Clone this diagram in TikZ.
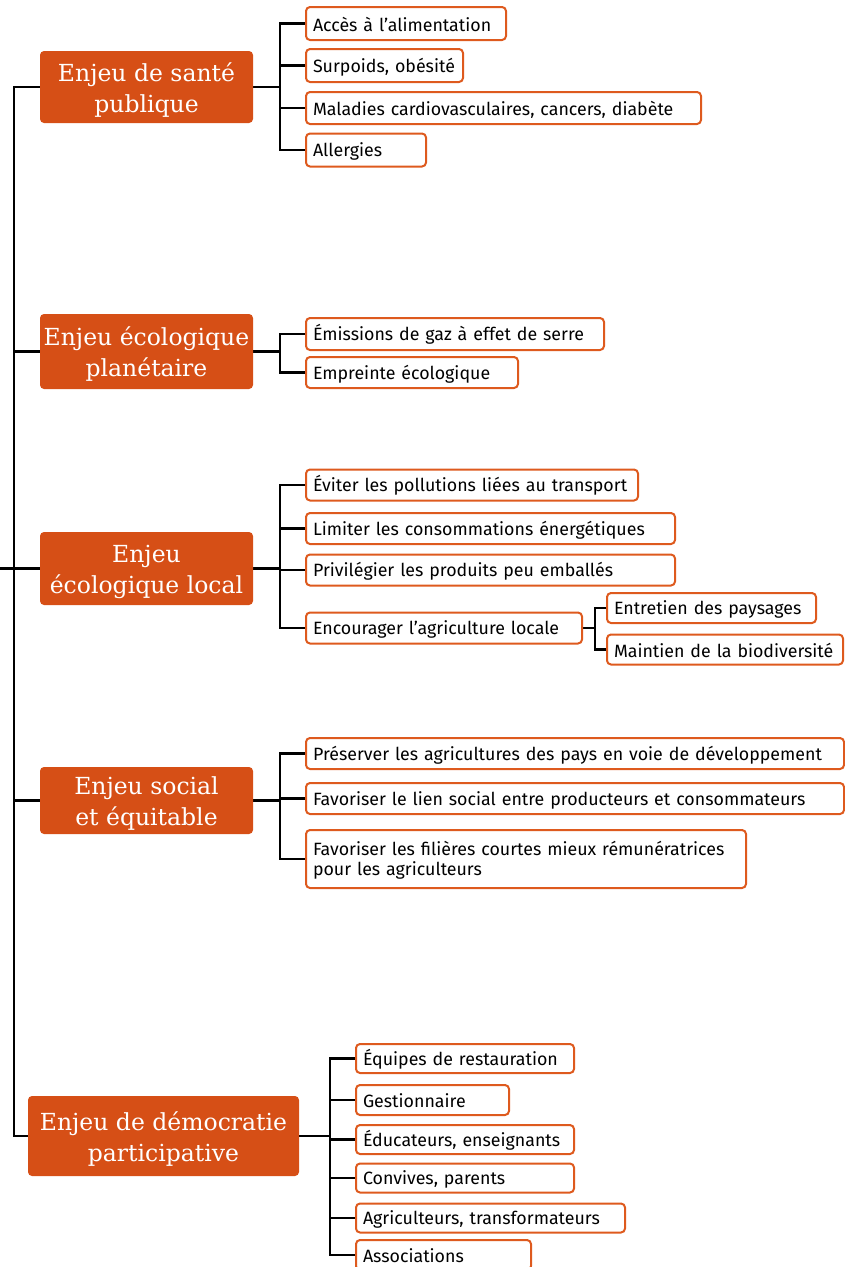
\documentclass[tikz,border=0pt]{standalone}
\usepackage{fontspec}
\setmainfont{Fira Sans}
\newfontfamily\headfont{DejaVu Serif}
\usetikzlibrary{backgrounds}
\definecolor{orhead}{RGB}{214,79,22}
\definecolor{orline}{RGB}{222,90,30}
\newcommand{\hstrut}{\rule{0pt}{24pt}}
\newcommand{\bxtop}{\rule{0pt}{17pt}}
\newcommand{\bxbot}{\rule[-2pt]{0pt}{2pt}}
\begin{document}
\begin{tikzpicture}[x=1pt,y=-1pt,
  head/.style={rectangle, rounded corners=4pt, fill=orhead, text=white,
    font=\headfont\fontsize{23.5}{31}\selectfont, align=center, inner sep=0pt},
  box/.style={rectangle, rounded corners=4pt, draw=orline, line width=2pt, fill=white,
    font=\fontsize{17.8}{20}\selectfont, inner xsep=7pt, inner ysep=0pt,
    execute at begin node=\bxtop, execute at end node=\bxbot,
    anchor=west, align=left},
  conn/.style={line width=2.5pt, black}]
\useasboundingbox (0,0) rectangle (845,1267);

% headers
\node[head, minimum width=213pt, minimum height=72pt] (h1) at (146.5,87) {\hstrut Enjeu de santé\\publique};
\node[head, minimum width=213pt, minimum height=75pt] (h2) at (146.5,351.5) {\hstrut Enjeu écologique\\planétaire};
\node[head, minimum width=213pt, minimum height=73pt] (h3) at (146.5,568.5) {\hstrut Enjeu\\écologique local};
\node[head, minimum width=213pt, minimum height=67pt] (h4) at (146.5,800.5) {\hstrut Enjeu social\\et équitable};
\node[head, minimum width=271pt, minimum height=80pt] (h5) at (163.5,1136) {\hstrut Enjeu de démocratie\\participative};

% santé
\node[box, text width=186pt, minimum height=33pt] (c11) at (305,23.5) {Accès à l’alimentation};
\node[box, text width=143pt, minimum height=33pt] (c12) at (305,65.5) {Surpoids, obésité};
\node[box, text width=381pt, minimum height=32pt] (c13) at (305,108) {Maladies cardiovasculaires, cancers, diabète};
\node[box, text width=106pt, minimum height=33pt] (c14) at (305,150) {Allergies};

% planétaire
\node[box, text width=284pt, minimum height=32pt] (c21) at (305,334) {Émissions de gaz à effet de serre};
\node[box, text width=198pt, minimum height=31pt] (c22) at (305,372.5) {Empreinte écologique};

% local
\node[box, text width=318pt, minimum height=31pt] (c31) at (305,485) {Éviter les pollutions liées au transport};
\node[box, text width=355pt, minimum height=31pt] (c32) at (305,528.5) {Limiter les consommations énergétiques};
\node[box, text width=355pt, minimum height=31pt] (c33) at (305,570) {Privilégier les produits peu emballés};
\node[box, text width=262pt, minimum height=31pt] (c34) at (305,628) {Encourager l’agriculture locale};
\node[box, text width=195pt, minimum height=30pt] (c341) at (606,608) {Entretien des paysages};
\node[box, text width=222pt, minimum height=30pt] (c342) at (606,649.5) {Maintien de la biodiversité};

% social
\node[box, text width=524pt, minimum height=31pt] (c41) at (305,753.5) {Préserver les agricultures des pays en voie de développement};
\node[box, text width=524pt, minimum height=31pt] (c42) at (305,798.5) {Favoriser le lien social entre producteurs et consommateurs};
\node[box, text width=426pt, minimum height=58pt] (c43) at (305,859) {Favoriser les filières courtes mieux rémunératrices\\pour les agriculteurs};

% démocratie
\node[box, text width=204pt, minimum height=29pt] (c51) at (355,1058.5) {Équipes de restauration};
\node[box, text width=139pt, minimum height=30pt] (c52) at (355,1100) {Gestionnaire};
\node[box, text width=204pt, minimum height=29pt] (c53) at (355,1139.5) {Éducateurs, enseignants};
\node[box, text width=204pt, minimum height=29pt] (c54) at (355,1178) {Convives, parents};
\node[box, text width=255pt, minimum height=29pt] (c55) at (355,1218) {Agriculteurs, transformateurs};
\node[box, text width=161pt, minimum height=30pt] (c56) at (355,1255) {Associations};

\coordinate (b1) at ([xshift=27pt]h1.east);
\coordinate (b2) at ([xshift=27pt]h2.east);
\coordinate (b3) at ([xshift=27pt]h3.east);
\coordinate (b4) at ([xshift=27pt]h4.east);
\coordinate (b5) at ([xshift=31pt]h5.east);
\coordinate (b34) at ([xshift=12pt]c34.east);
\coordinate (lstub) at (0,568.5);

\begin{scope}[on background layer]
% trunk
\draw[conn] (h1.west) -- ++(-26,0) |- (h5.west);
\draw[conn] (h2.west) -- ++(-26,0);
\draw[conn] (h3.west) -- (lstub);
\draw[conn] (h4.west) -- ++(-26,0);
% brackets
\draw[conn] (h1.east) -- (b1);
\foreach \c in {c11,c12,c13,c14} \draw[conn] (b1) |- (\c.west);
\draw[conn] (h2.east) -- (b2);
\foreach \c in {c21,c22} \draw[conn] (b2) |- (\c.west);
\draw[conn] (h3.east) -- (b3);
\foreach \c in {c31,c32,c33,c34} \draw[conn] (b3) |- (\c.west);
\draw[conn] (c34.east) -- (b34);
\foreach \c in {c341,c342} \draw[conn] (b34) |- (\c.west);
\draw[conn] (h4.east) -- (b4);
\foreach \c in {c41,c42,c43} \draw[conn] (b4) |- (\c.west);
\draw[conn] (h5.east) -- (b5);
\foreach \c in {c51,c52,c53,c54,c55,c56} \draw[conn] (b5) |- (\c.west);
\end{scope}
\end{tikzpicture}
\end{document}
